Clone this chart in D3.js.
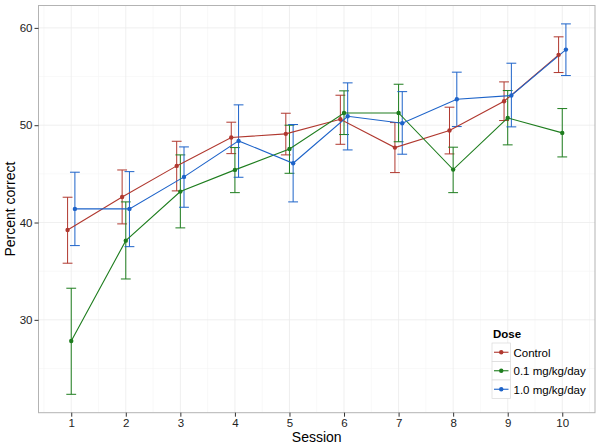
<!DOCTYPE html>
<html><head><meta charset="utf-8">
<script src="https://cdn.jsdelivr.net/npm/d3@7"></script>
<style>body{margin:0;background:#fff;} svg{display:block;font-family:"Liberation Sans",Arial,sans-serif;}</style>
</head><body><svg id="c" width="601" height="447"></svg>
<script>
const sessions = [1,2,3,4,5,6,7,8,9,10];
const doses = ["Control","0.1 mg/kg/day","1.0 mg/kg/day"];
const colors = ["#b0382f","#1e7d1e","#1d63c9"];
const controlMean = [39.24,42.63,45.82,48.73,49.11,50.61,47.70,49.45,52.46,57.23];
const controlHi   = [42.6,45.4,48.35,50.31,51.23,53.08,50.27,51.85,54.45,59.08];
const controlLo   = [35.82,39.86,43.25,47.08,46.95,48.04,45.13,47.05,50.48,55.41];
const lowMean = [27.83,38.14,43.18,45.41,47.56,51.26,51.26,45.44,50.75,49.21];
const lowHi   = [33.25,42.12,46.95,47.7,50.0,53.53,54.21,47.74,53.56,51.71];
const lowLo   = [22.35,34.2,39.45,43.07,45.06,49.04,48.3,43.07,47.98,46.74];
const highMean = [41.4,41.4,44.69,48.39,46.09,50.92,50.2,52.67,53.05,57.77];
const highHi   = [45.17,45.23,47.77,52.09,50.07,54.35,53.45,55.45,56.37,60.41];
const highLo   = [37.63,37.52,41.57,44.65,42.12,47.46,47.02,49.86,49.83,55.1];
const yTicks = [30,40,50,60];

const series = [
  {name:doses[0], mean:controlMean, hi:controlHi, lo:controlLo, color:colors[0], off:-1},
  {name:doses[1], mean:lowMean, hi:lowHi, lo:lowLo, color:colors[1], off:0},
  {name:doses[2], mean:highMean, hi:highHi, lo:highLo, color:colors[2], off:1}
];

const svg = d3.select("#c");
const L=38.5, R=595, T=5.5, B=412.7;
const x = d3.scaleLinear().domain([0.4,10.6]).range([L,R]);
const y = d3.scaleLinear().domain([20.46,62.3]).range([B,T]);
const dodge = 0.067, capW = 0.09;

// panel
svg.append("rect").attr("x",L).attr("y",T).attr("width",R-L).attr("height",B-T).attr("fill","#fff");
const g = svg.append("g");
// minor grid
const yMinor = [25,35,45,55];
g.selectAll(".ymin").data(yMinor).enter().append("line")
  .attr("x1",L).attr("x2",R).attr("y1",d=>y(d)).attr("y2",d=>y(d)).attr("stroke","#f5f5f5").attr("stroke-width",0.6);
const xMinor = d3.range(0.5,11,1);
g.selectAll(".xmin").data(xMinor).enter().append("line")
  .attr("y1",T).attr("y2",B).attr("x1",d=>x(d)).attr("x2",d=>x(d)).attr("stroke","#f5f5f5").attr("stroke-width",0.6);
g.selectAll(".ymaj").data(yTicks).enter().append("line")
  .attr("x1",L).attr("x2",R).attr("y1",d=>y(d)).attr("y2",d=>y(d)).attr("stroke","#ebebeb").attr("stroke-width",0.8);
g.selectAll(".xmaj").data(sessions).enter().append("line")
  .attr("y1",T).attr("y2",B).attr("x1",d=>x(d)).attr("x2",d=>x(d)).attr("stroke","#ebebeb").attr("stroke-width",0.8);

// error bars
series.forEach(s=>{
  const eg = svg.append("g").attr("stroke",s.color).attr("stroke-width",1).attr("fill","none");
  sessions.forEach((sx,i)=>{
    const cx = sx + s.off*dodge;
    eg.append("line").attr("x1",x(cx)).attr("x2",x(cx)).attr("y1",y(s.hi[i])).attr("y2",y(s.lo[i]));
    eg.append("line").attr("x1",x(cx-capW)).attr("x2",x(cx+capW)).attr("y1",y(s.hi[i])).attr("y2",y(s.hi[i]));
    eg.append("line").attr("x1",x(cx-capW)).attr("x2",x(cx+capW)).attr("y1",y(s.lo[i])).attr("y2",y(s.lo[i]));
  });
});
// lines
series.forEach(s=>{
  const line = d3.line().x((d,i)=>x(sessions[i]+s.off*dodge)).y(d=>y(d));
  svg.append("path").attr("d",line(s.mean)).attr("fill","none").attr("stroke",s.color).attr("stroke-width",1.1);
});
// points
series.forEach(s=>{
  svg.append("g").selectAll("circle").data(s.mean).enter().append("circle")
    .attr("cx",(d,i)=>x(sessions[i]+s.off*dodge)).attr("cy",d=>y(d)).attr("r",2.2).attr("fill",s.color);
});

// border
svg.append("rect").attr("x",L).attr("y",T).attr("width",R-L).attr("height",B-T).attr("fill","none").attr("stroke","#b3b3b3").attr("stroke-width",1);

// axes
const xAxis = svg.append("g").attr("transform",`translate(0,${B})`)
  .call(d3.axisBottom(x).tickValues(sessions).tickSize(4).tickPadding(2).tickFormat(d3.format("d")));
const yAxis = svg.append("g").attr("transform",`translate(${L},0)`)
  .call(d3.axisLeft(y).tickValues(yTicks).tickSize(4).tickPadding(2));
[xAxis,yAxis].forEach(a=>{
  a.select(".domain").remove();
  a.selectAll(".tick line").attr("stroke","#333").attr("stroke-width",1);
  a.selectAll(".tick text").attr("fill","#222").style("font-size","11.5px").style("font-family","Liberation Sans, Arial, sans-serif");
});

svg.append("text").attr("x",(L+R)/2).attr("y",442).attr("text-anchor","middle")
  .style("font-size","14px").attr("fill","#000").text("Session");
svg.append("text").attr("transform",`translate(15,${(T+B)/2}) rotate(-90)`).attr("text-anchor","middle")
  .style("font-size","14px").attr("fill","#000").text("Percent correct");

// legend
const lg = svg.append("g").attr("transform","translate(492,325)");
lg.append("text").attr("x",1).attr("y",13).style("font-size","11.5px").style("font-weight","bold").text("Dose");
doses.forEach((d,i)=>{
  const row = lg.append("g").attr("transform",`translate(0,${18+i*18.5})`);
  row.append("rect").attr("x",0).attr("y",0).attr("width",18.5).attr("height",18.5).attr("fill","#fff").attr("stroke","#d9d9d9").attr("stroke-width",0.7);
  row.append("line").attr("x1",2).attr("x2",16.5).attr("y1",9.25).attr("y2",9.25).attr("stroke",colors[i]).attr("stroke-width",1.1);
  row.append("circle").attr("cx",9.25).attr("cy",9.25).attr("r",2.2).attr("fill",colors[i]);
  row.append("text").attr("x",21.5).attr("y",13.5).style("font-size","11.5px").attr("fill","#000").text(d);
});
</script></body></html>
